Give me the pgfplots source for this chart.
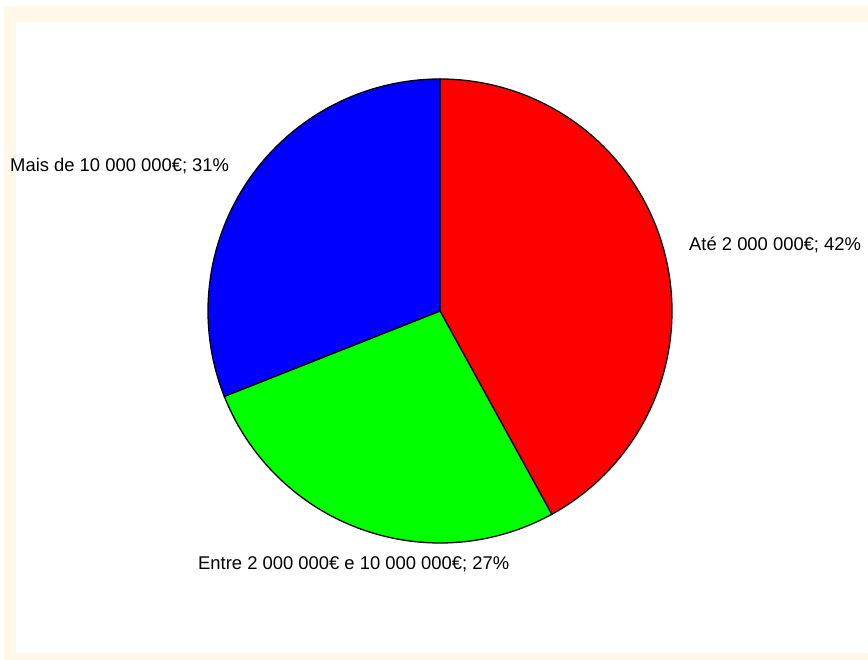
\documentclass[border=0pt]{standalone}
\usepackage{fontspec}
\setmainfont{Liberation Sans}
\usepackage{pgfplots}
\usepackage{pgfplotstable}
\pgfplotsset{compat=1.18}
\definecolor{cream}{HTML}{FFF8E8}
\definecolor{pred}{HTML}{FF0000}
\definecolor{pgreen}{HTML}{00FF00}
\definecolor{pblue}{HTML}{0000FF}
\pgfplotstableread{
slice value
A 42
B 27
C 31
}\piedata
\begin{document}%
\begin{tikzpicture}
\pgfplotstablegetelem{0}{value}\of\piedata\let\vA\pgfplotsretval
\pgfplotstablegetelem{1}{value}\of\piedata\let\vB\pgfplotsretval
\pgfplotstablegetelem{2}{value}\of\piedata\let\vC\pgfplotsretval
\pgfmathsetmacro\aA{90}
\pgfmathsetmacro\aB{\aA-3.6*\vA}
\pgfmathsetmacro\aC{\aB-3.6*\vB}
\pgfmathsetmacro\aD{\aC-3.6*\vC}
\begin{axis}[
  width=868pt, height=660pt, scale only axis,
  xmin=0, xmax=868, ymin=0, ymax=660,
  enlargelimits=false,
  hide axis, clip=false,
]
\coordinate (bl) at (0,0);
\coordinate (tr) at (868,660);
\fill[cream] (4,0) rectangle (868,654);
\fill[white] (16,7) rectangle (868,638);
\addplot[fill=pred, draw=black, line width=1.3pt, domain=\aB:\aA, samples=150, variable=\t]
  ({440+232*cos(\t)}, {349+232*sin(\t)}) -- (440,349) -- cycle;
\addplot[fill=pgreen, draw=black, line width=1.3pt, domain=\aC:\aB, samples=120, variable=\t]
  ({440+232*cos(\t)}, {349+232*sin(\t)}) -- (440,349) -- cycle;
\addplot[fill=pblue, draw=black, line width=1.3pt, domain=\aD:\aC, samples=120, variable=\t]
  ({440+232*cos(\t)}, {349+232*sin(\t)}) -- (440,349) -- cycle;
\node[anchor=base west, inner sep=0pt, font=\fontsize{18.4}{22}\selectfont] at (689,409) {Até 2 000 000€; 42\%};
\node[anchor=base west, inner sep=0pt, font=\fontsize{18.4}{22}\selectfont] at (198,90) {Entre 2 000 000€ e 10 000 000€; 27\%};
\node[anchor=base west, inner sep=0pt, font=\fontsize{18.4}{22}\selectfont] at (10,488) {Mais de 10 000 000€; 31\%};
\end{axis}
\pgfresetboundingbox
\path (bl) rectangle (tr);
\end{tikzpicture}%
\end{document}
